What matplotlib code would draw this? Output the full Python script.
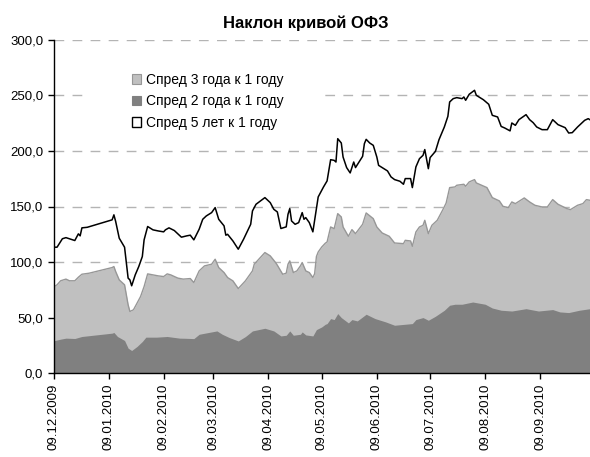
import pandas as pd
import matplotlib
matplotlib.use("Agg")
import matplotlib.pyplot as plt
import matplotlib.dates as mdates
from matplotlib.patches import Patch, Rectangle
from matplotlib.ticker import FuncFormatter, MultipleLocator

plt.rcParams["font.family"] = ["Liberation Sans", "DejaVu Sans"]

# ===== DATA =====
TITLE = "Наклон кривой ОФЗ"
LABEL_3Y = "Спред 3 года к 1 году"
LABEL_2Y = "Спред 2 года к 1 году"
LABEL_5Y = "Спред 5 лет к 1 году"

dates_5y = [
    "2009-12-09", "2009-12-11", "2009-12-14", "2009-12-16", "2009-12-18", "2009-12-21",
    "2009-12-23", "2009-12-24", "2009-12-25", "2009-12-28", "2010-01-11", "2010-01-12",
    "2010-01-13", "2010-01-15", "2010-01-18", "2010-01-20", "2010-01-21", "2010-01-22",
    "2010-01-24", "2010-01-26", "2010-01-28", "2010-01-29", "2010-01-31", "2010-02-03",
    "2010-02-06", "2010-02-09", "2010-02-10", "2010-02-12", "2010-02-15", "2010-02-19",
    "2010-02-22", "2010-02-24", "2010-02-26", "2010-03-01", "2010-03-03", "2010-03-05",
    "2010-03-08", "2010-03-10", "2010-03-12", "2010-03-15", "2010-03-16", "2010-03-17",
    "2010-03-20", "2010-03-23", "2010-03-26", "2010-03-30", "2010-03-31", "2010-04-02",
    "2010-04-07", "2010-04-10", "2010-04-12", "2010-04-14", "2010-04-16", "2010-04-19",
    "2010-04-20", "2010-04-21", "2010-04-22", "2010-04-24", "2010-04-26", "2010-04-28",
    "2010-04-29", "2010-04-30", "2010-05-02", "2010-05-04", "2010-05-07", "2010-05-10",
    "2010-05-12", "2010-05-14", "2010-05-16", "2010-05-17", "2010-05-18", "2010-05-20",
    "2010-05-21", "2010-05-23", "2010-05-25", "2010-05-27", "2010-05-28", "2010-06-01",
    "2010-06-02", "2010-06-03", "2010-06-05", "2010-06-07", "2010-06-09", "2010-06-10",
    "2010-06-13", "2010-06-15", "2010-06-17", "2010-06-19", "2010-06-22", "2010-06-24",
    "2010-06-25", "2010-06-28", "2010-06-29", "2010-07-01", "2010-07-03", "2010-07-05",
    "2010-07-06", "2010-07-08", "2010-07-09", "2010-07-12", "2010-07-14", "2010-07-17",
    "2010-07-19", "2010-07-20", "2010-07-22", "2010-07-24", "2010-07-27", "2010-07-28",
    "2010-07-29", "2010-07-31", "2010-08-03", "2010-08-04", "2010-08-08", "2010-08-11",
    "2010-08-13", "2010-08-16", "2010-08-18", "2010-08-20", "2010-08-23", "2010-08-24",
    "2010-08-26", "2010-08-28", "2010-09-01", "2010-09-03", "2010-09-05", "2010-09-07",
    "2010-09-10", "2010-09-13", "2010-09-16", "2010-09-19", "2010-09-23", "2010-09-25",
    "2010-09-27", "2010-09-30", "2010-10-02", "2010-10-04", "2010-10-06", "2010-10-07",
]
spread_5y = [
    113.4, 113.4, 121.0, 122.0, 121.0, 119.4,
    125.4, 123.6, 130.8, 131.3, 138.0, 142.5,
    136.5, 121.5, 113.4, 85.6, 84.0, 78.7,
    88.5, 96.0, 105.0, 120.0, 132.0, 129.0,
    128.0, 127.2, 129.0, 130.8, 128.4, 122.4,
    123.6, 124.2, 120.0, 129.6, 138.5, 141.5,
    144.5, 149.0, 138.5, 132.6, 124.2, 125.0,
    119.0, 111.6, 120.6, 134.0, 146.0, 152.0,
    158.0, 153.5, 147.5, 145.1, 130.2, 131.7,
    143.0, 148.1, 137.0, 134.0, 135.5, 144.5,
    138.5, 140.0, 135.5, 127.2, 158.6, 167.6,
    173.0, 192.1, 191.5, 190.0, 211.0, 207.1,
    194.5, 185.0, 180.2, 190.0, 185.0, 195.1,
    206.5, 210.4, 207.1, 205.0, 194.5, 187.0,
    184.0, 182.0, 176.6, 174.2, 172.7, 170.0,
    175.1, 175.1, 167.0, 185.6, 193.0, 196.0,
    201.2, 184.0, 194.0, 199.6, 210.1, 221.5,
    231.1, 244.0, 247.0, 247.9, 247.0, 248.5,
    245.5, 250.9, 254.5, 250.0, 246.0, 241.9,
    232.0, 230.5, 222.0, 220.6, 218.0, 225.1,
    223.0, 228.1, 232.6, 228.1, 225.4, 221.5,
    219.1, 219.1, 228.1, 223.6, 220.9, 216.1,
    216.4, 221.5, 224.5, 227.5, 229.0, 228.0,
]

dates_3y = [
    "2009-12-09", "2009-12-11", "2009-12-13", "2009-12-16", "2009-12-18", "2009-12-21",
    "2009-12-23", "2009-12-25", "2009-12-29", "2010-01-11", "2010-01-12", "2010-01-13",
    "2010-01-15", "2010-01-18", "2010-01-20", "2010-01-21", "2010-01-23", "2010-01-25",
    "2010-01-27", "2010-01-29", "2010-01-31", "2010-02-03", "2010-02-06", "2010-02-09",
    "2010-02-11", "2010-02-13", "2010-02-17", "2010-02-20", "2010-02-24", "2010-02-26",
    "2010-03-01", "2010-03-04", "2010-03-08", "2010-03-10", "2010-03-12", "2010-03-15",
    "2010-03-17", "2010-03-20", "2010-03-23", "2010-03-27", "2010-03-31", "2010-04-01",
    "2010-04-07", "2010-04-10", "2010-04-13", "2010-04-14", "2010-04-17", "2010-04-19",
    "2010-04-20", "2010-04-21", "2010-04-23", "2010-04-25", "2010-04-27", "2010-04-28",
    "2010-04-30", "2010-05-02", "2010-05-04", "2010-05-05", "2010-05-06", "2010-05-07",
    "2010-05-09", "2010-05-11", "2010-05-12", "2010-05-14", "2010-05-16", "2010-05-18",
    "2010-05-20", "2010-05-21", "2010-05-24", "2010-05-26", "2010-05-28", "2010-06-01",
    "2010-06-03", "2010-06-07", "2010-06-09", "2010-06-12", "2010-06-16", "2010-06-19",
    "2010-06-24", "2010-06-25", "2010-06-28", "2010-06-29", "2010-07-01", "2010-07-03",
    "2010-07-05", "2010-07-06", "2010-07-08", "2010-07-10", "2010-07-13", "2010-07-16",
    "2010-07-18", "2010-07-20", "2010-07-23", "2010-07-24", "2010-07-28", "2010-07-29",
    "2010-07-31", "2010-08-03", "2010-08-04", "2010-08-10", "2010-08-13", "2010-08-17",
    "2010-08-19", "2010-08-22", "2010-08-24", "2010-08-26", "2010-08-31", "2010-09-03",
    "2010-09-06", "2010-09-10", "2010-09-13", "2010-09-16", "2010-09-19", "2010-09-24",
    "2010-09-26", "2010-09-30", "2010-10-03", "2010-10-05", "2010-10-07",
]
spread_3y = [
    77.5, 79.6, 83.2, 84.7, 83.2, 83.2,
    86.4, 89.1, 90.0, 95.1, 96.0, 91.5,
    84.0, 79.6, 61.6, 55.6, 57.1, 63.0,
    69.0, 78.0, 89.4, 88.5, 87.6, 87.0,
    89.4, 88.5, 85.6, 84.7, 85.2, 81.6,
    92.1, 96.6, 98.1, 102.6, 95.1, 90.6,
    86.1, 83.1, 76.2, 83.1, 92.1, 98.1,
    108.6, 105.6, 99.6, 97.2, 89.1, 90.0,
    98.1, 101.1, 90.6, 92.1, 96.6, 99.6,
    92.1, 90.6, 86.1, 89.6, 105.0, 109.1,
    113.6, 117.0, 118.1, 131.6, 130.1, 143.6,
    140.6, 131.6, 123.2, 129.2, 125.6, 134.0,
    144.2, 139.1, 131.6, 126.2, 123.2, 117.2,
    116.6, 119.6, 119.0, 114.2, 127.1, 131.6,
    133.1, 137.6, 125.6, 133.1, 137.6, 146.6,
    153.0, 167.0, 167.6, 169.1, 170.0, 168.2,
    172.1, 174.2, 171.2, 167.0, 158.0, 155.0,
    150.2, 149.0, 154.1, 152.6, 157.7, 154.1,
    151.1, 149.6, 149.6, 156.2, 152.0, 148.1,
    147.2, 151.1, 152.6, 156.2, 155.6,
]

dates_2y = [
    "2009-12-09", "2009-12-13", "2009-12-16", "2009-12-21", "2009-12-25", "2010-01-11",
    "2010-01-12", "2010-01-14", "2010-01-18", "2010-01-20", "2010-01-22", "2010-01-25",
    "2010-01-28", "2010-01-30", "2010-02-05", "2010-02-11", "2010-02-18", "2010-02-21",
    "2010-02-26", "2010-03-01", "2010-03-06", "2010-03-11", "2010-03-14", "2010-03-18",
    "2010-03-23", "2010-03-27", "2010-03-31", "2010-04-07", "2010-04-12", "2010-04-16",
    "2010-04-19", "2010-04-21", "2010-04-23", "2010-04-27", "2010-04-28", "2010-04-30",
    "2010-05-04", "2010-05-06", "2010-05-09", "2010-05-11", "2010-05-12", "2010-05-14",
    "2010-05-16", "2010-05-18", "2010-05-20", "2010-05-24", "2010-05-26", "2010-05-29",
    "2010-06-03", "2010-06-08", "2010-06-14", "2010-06-19", "2010-06-29", "2010-07-01",
    "2010-07-05", "2010-07-08", "2010-07-12", "2010-07-17", "2010-07-20", "2010-07-23",
    "2010-07-27", "2010-08-02", "2010-08-09", "2010-08-13", "2010-08-18", "2010-08-24",
    "2010-09-01", "2010-09-08", "2010-09-16", "2010-09-20", "2010-09-25", "2010-10-01",
    "2010-10-07",
]
spread_2y = [
    29.2, 30.7, 31.6, 31.3, 33.1, 36.1,
    36.7, 33.1, 29.5, 22.6, 20.5, 24.1,
    28.6, 32.5, 32.5, 33.1, 31.6, 31.5,
    31.2, 35.1, 36.6, 38.1, 35.1, 32.1,
    29.1, 33.0, 38.1, 40.5, 38.1, 33.6,
    34.2, 38.1, 34.2, 35.1, 37.2, 34.5,
    33.6, 39.3, 41.7, 44.1, 44.7, 49.2,
    48.3, 53.7, 50.1, 45.3, 48.3, 47.1,
    53.1, 49.2, 46.2, 43.2, 44.7, 48.3,
    50.1, 47.7, 51.3, 56.7, 61.2, 62.1,
    62.1, 64.1, 62.1, 58.7, 56.7, 56.0,
    58.1, 56.0, 57.3, 55.2, 54.6, 56.7,
    58.1,
]

Y_TICKS_STEP = 50
Y_MAX = 300

# ===== STYLE =====
LIGHT = "#c0c0c0"
LIGHT_EDGE = "#979797"
DARK = "#808080"
GRID = "#b4b4b4"


def main():
    d5 = pd.to_datetime(dates_5y)
    d3 = pd.to_datetime(dates_3y)
    d2 = pd.to_datetime(dates_2y)

    fig = plt.figure(figsize=(5.9, 4.57), dpi=100)
    ax = fig.add_axes([53.5 / 590, 1 - 373.3 / 457, 1 - 53.5 / 590, (373.3 - 39.7) / 457])

    ax.fill_between(d3, spread_3y, 0, color=LIGHT, linewidth=0, zorder=1)
    ax.plot(d3, spread_3y, color=LIGHT_EDGE, linewidth=1.0, zorder=1.1)
    ax.fill_between(d2, spread_2y, 0, color=DARK, linewidth=0, zorder=1.2)
    ax.plot(d5, spread_5y, color="black", linewidth=1.1, zorder=3)

    ax.set_ylim(0, Y_MAX)
    ax.set_xlim(d5[0], d5[-1])
    ax.yaxis.set_major_locator(MultipleLocator(Y_TICKS_STEP))
    ax.yaxis.set_major_formatter(FuncFormatter(lambda v, p: f"{v:.1f}".replace(".", ",")))
    ax.xaxis.set_major_locator(mdates.MonthLocator(bymonthday=9))
    ax.xaxis.set_major_formatter(mdates.DateFormatter("%d.%m.%Y"))
    for lab in ax.get_xticklabels():
        lab.set_rotation(90)

    ax.grid(axis="y", color=GRID, linestyle=(0, (7, 6)), linewidth=1.0)
    ax.set_axisbelow(True)
    ax.tick_params(axis="both", direction="out", length=4, width=1, labelsize=9.5, colors="black")
    for side in ("top", "right"):
        ax.spines[side].set_visible(False)
    for side in ("left", "bottom"):
        ax.spines[side].set_linewidth(1.0)
        ax.spines[side].set_zorder(4)

    # white area behind the legend hides the gridline, as in the original
    ax.add_patch(Rectangle((36.5 / 536.5, 1 - 100 / 333.6), 232 / 536.5, 80 / 333.6,
                           transform=ax.transAxes, facecolor="white", edgecolor="none", zorder=0.8))

    handles = [
        Patch(facecolor=LIGHT, edgecolor=LIGHT_EDGE, linewidth=0.8, label=LABEL_3Y),
        Patch(facecolor=DARK, edgecolor=DARK, linewidth=0.8, label=LABEL_2Y),
        Patch(facecolor="white", edgecolor="black", linewidth=1.0, label=LABEL_5Y),
    ]
    fig.legend(handles=handles, loc="upper left", bbox_to_anchor=(122 / 590, 1 - 63 / 457),
               frameon=False, fontsize=10, handlelength=0.7, handleheight=0.7,
               handletextpad=0.3, labelspacing=0.55, borderpad=0.2)

    fig.text(306 / 590, 1 - 23 / 457, TITLE, ha="center", va="center",
             fontsize=12, fontweight="bold")

    fig.savefig("out.png", dpi=100)


if __name__ == "__main__":
    main()
